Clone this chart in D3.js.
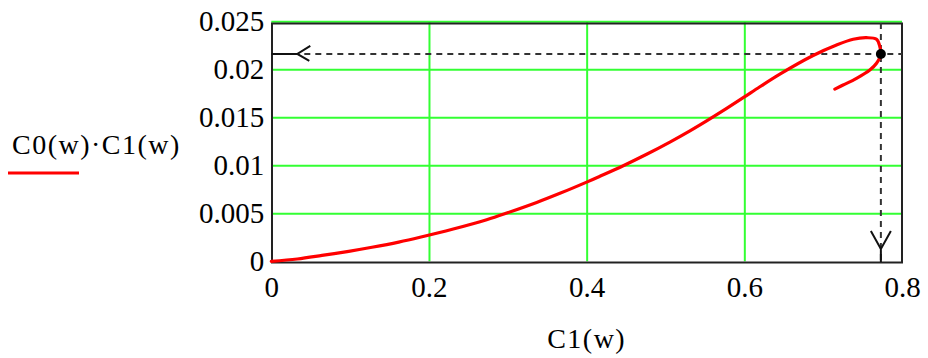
<!DOCTYPE html>
<html>
<head>
<meta charset="utf-8">
<script src="https://cdn.jsdelivr.net/npm/d3@7"></script>
<style>
  html, body { margin: 0; padding: 0; background: #fff; }
  svg { display: block; }
  text { font-family: "Liberation Serif", "Times New Roman", serif; fill: #000; }
</style>
</head>
<body>
<svg id="chart" width="928" height="358"></svg>
<script>
// Parametric trace: horizontal = C1(w), vertical = C0(w)·C1(w)
const c1Values = [0, 0.033, 0.0643, 0.0982, 0.1277, 0.1616, 0.1886, 0.2308, 0.2732, 0.3006,
  0.3366, 0.3661, 0.4, 0.4168, 0.4464, 0.4761, 0.5056, 0.531, 0.5522, 0.5776,
  0.5986, 0.6197, 0.6451, 0.6873, 0.717, 0.7381, 0.755, 0.7677, 0.7719, 0.7732,
  0.7677, 0.7592, 0.7423, 0.7253, 0.7148];
const productValues = [0, 0.00024, 0.00061, 0.00104, 0.00146, 0.002, 0.0025, 0.00336, 0.00433, 0.00508,
  0.00613, 0.00708, 0.00825, 0.00886, 0.00996, 0.01115, 0.01242, 0.01359, 0.01463, 0.01593,
  0.01704, 0.01818, 0.0195, 0.02144, 0.02253, 0.02313, 0.02329, 0.02313, 0.02235, 0.0216,
  0.02063, 0.01993, 0.01906, 0.01836, 0.01794];

// Trace cursor position
const cursorX = 0.7732;
const cursorY = 0.0216;

const xTicks = [0, 0.2, 0.4, 0.6, 0.8];
const xTickLabels = ["0", "0.2", "0.4", "0.6", "0.8"];
const yTicks = [0, 0.005, 0.01, 0.015, 0.02, 0.025];
const yTickLabels = ["0", "0.005", "0.01", "0.015", "0.02", "0.025"];

const xTitle = "C1(w)";
const yTitle = "C0(w)·C1(w)";

const svg = d3.select("#chart");
const L = 271.3, R = 902, T = 21.3, B = 261.3;

const x = d3.scaleLinear().domain([0, 0.8]).range([L, R]);
const y = d3.scaleLinear().domain([0, 0.025]).range([B, T]);

const gridColor = "#33ff33";

// vertical grid
svg.append("g")
  .attr("transform", `translate(0,${B})`)
  .call(d3.axisBottom(x).tickValues(xTicks.slice(1, -1)).tickSize(-(B - T)).tickFormat(""))
  .call(g => g.select(".domain").remove())
  .call(g => g.selectAll("line").attr("stroke", gridColor).attr("stroke-width", 2));

// horizontal grid
svg.append("g")
  .attr("transform", `translate(${L},0)`)
  .call(d3.axisLeft(y).tickValues(yTicks.slice(1)).tickSize(-(R - L)).tickFormat(""))
  .call(g => g.select(".domain").remove())
  .call(g => g.selectAll("line").attr("stroke", gridColor).attr("stroke-width", 2));

// plot frame
svg.append("rect")
  .attr("x", 272).attr("y", 23.5)
  .attr("width", 630).attr("height", 239)
  .attr("fill", "none").attr("stroke", "#222").attr("stroke-width", 2);

// tick labels
svg.append("g")
  .attr("transform", `translate(0,${B})`)
  .call(d3.axisBottom(x).tickValues(xTicks).tickSize(0).tickPadding(15)
    .tickFormat((d, i) => xTickLabels[i]))
  .call(g => g.select(".domain").remove())
  .call(g => g.selectAll("text").attr("font-size", 29).attr("font-family", "Liberation Serif").attr("fill", "#000"));

svg.append("g")
  .attr("transform", `translate(${L},0)`)
  .call(d3.axisLeft(y).tickValues(yTicks).tickSize(0).tickPadding(7)
    .tickFormat((d, i) => yTickLabels[i]))
  .call(g => g.select(".domain").remove())
  .call(g => g.selectAll("text").attr("font-size", 29).attr("font-family", "Liberation Serif").attr("fill", "#000"));

// cursor crosshair
const dash = "6,5";
const cy = y(cursorY), cx = x(cursorX);
svg.append("line")
  .attr("x1", L).attr("x2", R).attr("y1", cy).attr("y2", cy)
  .attr("stroke", "#333").attr("stroke-width", 2).attr("stroke-dasharray", dash);
svg.append("line")
  .attr("x1", cx).attr("x2", cx).attr("y1", 23).attr("y2", 262)
  .attr("stroke", "#333").attr("stroke-width", 2).attr("stroke-dasharray", dash);

// cursor arrow on the left axis
svg.append("path")
  .attr("d", `M${L},${cy} L${L + 26},${cy} M${L + 39},${cy - 8} L${L + 26},${cy} L${L + 38},${cy + 7}`)
  .attr("fill", "none").attr("stroke", "#111").attr("stroke-width", 2);
// cursor arrow on the bottom axis
svg.append("path")
  .attr("d", `M${cx},${262} L${cx},${249} M${cx - 10},${231} L${cx},${249} L${cx + 10},${231}`)
  .attr("fill", "none").attr("stroke", "#111").attr("stroke-width", 2);

// trace
const line = d3.line()
  .x(d => x(d[0])).y(d => y(d[1]))
  .curve(d3.curveCatmullRom.alpha(0.5));
svg.append("path")
  .datum(c1Values.map((v, i) => [v, productValues[i]]))
  .attr("d", line)
  .attr("fill", "none").attr("stroke", "#ff0000").attr("stroke-width", 3.2)
  .attr("stroke-linejoin", "round").attr("stroke-linecap", "round");

// cursor marker
svg.append("circle")
  .attr("cx", cx).attr("cy", cy).attr("r", 5).attr("fill", "#000");

// titles
svg.append("text")
  .attr("x", 12).attr("y", 154)
  .attr("font-size", 28).attr("letter-spacing", 1.5)
  .text(yTitle);
svg.append("line")
  .attr("x1", 8).attr("x2", 79).attr("y1", 173).attr("y2", 173)
  .attr("stroke", "#ff0000").attr("stroke-width", 3);

svg.append("text")
  .attr("x", (L + R) / 2).attr("y", 348)
  .attr("text-anchor", "middle")
  .attr("font-size", 28).attr("letter-spacing", 1.5)
  .text(xTitle);
</script>
</body>
</html>
